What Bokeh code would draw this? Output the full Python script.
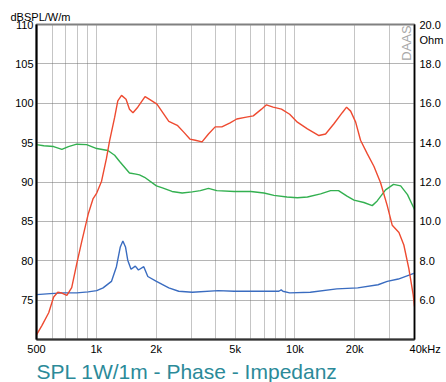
import math
from bokeh.plotting import figure
from bokeh.models import (Range1d, LinearAxis, FixedTicker, Label, Title,
                          PrintfTickFormatter)
from bokeh.embed import file_html
from bokeh.resources import INLINE

# ---- data ----
spl_freq = [500, 533, 576, 610, 640, 671, 711, 752, 797, 844, 910, 964, 1005,
            1063, 1125, 1166, 1237, 1283, 1340, 1412, 1469, 1530, 1617, 1760,
            1854, 2020, 2318, 2557, 2763, 2960, 3150, 3407, 3671, 3968, 4286,
            4718, 5094, 5608, 6171, 6790, 7188, 7765, 8556, 9411, 10290,
            11560, 13210, 14270, 15720, 17310, 18200, 19080, 20220, 21400,
            23120, 24980, 26990, 29160, 30910, 33400, 35350, 37460, 39390,
            40000]
spl_db = [70.6, 71.8, 73.4, 75.4, 76.0, 75.9, 75.6, 76.6, 79.6, 82.4, 85.9,
          87.9, 88.6, 90.1, 93.0, 95.2, 98.2, 100.3, 101.0, 100.5, 99.25,
          98.8, 99.5, 100.85, 100.5, 99.9, 97.7, 97.2, 96.3, 95.45, 95.3,
          95.1, 96.1, 97.0, 97.0, 97.5, 98.0, 98.2, 98.4, 99.25, 99.8, 99.5,
          99.25, 98.6, 97.6, 96.75, 95.9, 96.1, 97.4, 98.8, 99.5, 99.0, 97.6,
          95.3, 93.6, 92.0, 89.9, 87.0, 84.5, 83.6, 82.0, 79.0, 75.7, 74.2]

phase_freq = [500, 544, 610, 671, 724, 797, 894, 1005, 1144, 1237, 1311, 1469,
              1584, 1650, 1750, 2008, 2153, 2405, 2706, 3042, 3341, 3671,
              4040, 4950, 5996, 6986, 7840, 9119, 10290, 11560, 13470, 15120,
              16580, 18290, 19830, 22250, 24510, 25960, 28600, 31350, 34080,
              36880, 40000]
phase_val = [94.75, 94.6, 94.5, 94.15, 94.5, 94.8, 94.75, 94.25, 94.0, 93.4,
             92.6, 91.15, 91.0, 90.9, 90.6, 89.5, 89.25, 88.8, 88.6, 88.75,
             88.9, 89.2, 88.9, 88.8, 88.8, 88.6, 88.3, 88.1, 88.0, 88.1, 88.5,
             88.9, 88.9, 88.2, 87.7, 87.4, 87.0, 87.6, 89.0, 89.7, 89.5, 88.4,
             86.5]

imp_freq = [500, 587, 684, 797, 910, 1005, 1082, 1192, 1263, 1321, 1361, 1403,
            1440, 1496, 1572, 1630, 1734, 1817, 2008, 2318, 2600, 3042, 4110,
            4950, 8300, 8530, 8700, 9411, 11950, 16250, 20710, 26220, 29160,
            33160, 40000]
imp_ohm = [6.28, 6.33, 6.37, 6.37, 6.42, 6.48, 6.62, 6.95, 7.7, 8.7, 9.0, 8.7,
           8.03, 7.57, 7.73, 7.53, 7.7, 7.2, 6.95, 6.62, 6.45, 6.4, 6.48, 6.45,
           6.45, 6.52, 6.45, 6.37, 6.4, 6.57, 6.62, 6.78, 6.95, 7.07, 7.37]

x_label_ticks = [500, 1000, 2000, 5000, 10000, 20000, 40000]
x_label_text = ["500", "1k", "2k", "5k", "10k", "20k",
                "\u00a0\u00a0\u00a0\u00a0\u00a0\u00a0\u00a040kHz"]
x_grid_ticks = [600, 700, 800, 900, 1000, 2000, 3000, 4000, 5000, 6000, 7000,
                8000, 9000, 10000, 20000, 30000]
db_ticks = [75, 80, 85, 90, 95, 100, 105, 110]
db_grid = [75, 80, 85, 90, 95, 100, 105]
ohm_ticks = [6, 8, 10, 12, 14, 16, 18, 20]
ohm_unit_pos = 19.2

FONT = "Liberation Sans"

p = figure(width=446, height=382, x_axis_type="log",
           x_range=Range1d(500, 40000), y_range=Range1d(70, 110),
           output_backend="svg", toolbar_location=None,
           min_border_left=36, min_border_right=27, min_border_top=24,
           min_border_bottom=41)
p.extra_y_ranges = {"ohm": Range1d(4, 20)}
p.background_fill_color = "white"
p.border_fill_color = "white"
p.outline_line_color = "#808080"
p.outline_line_width = 2

# axes
xa = p.xaxis[0]
xa.ticker = FixedTicker(ticks=x_label_ticks)
xa.major_label_overrides = {t: s for t, s in zip(x_label_ticks, x_label_text)}
ya = p.yaxis[0]
ya.ticker = FixedTicker(ticks=db_ticks)

ra = LinearAxis(y_range_name="ohm",
                ticker=FixedTicker(ticks=ohm_ticks + [ohm_unit_pos]),
                formatter=PrintfTickFormatter(format="%.1f"))
ra.major_label_overrides = {ohm_unit_pos: "Ohm"}
p.add_layout(ra, "right")

for ax in (xa, ya, ra):
    ax.major_tick_out = 0
    ax.major_tick_in = 0
    ax.minor_tick_out = 0
    ax.minor_tick_in = 0
    ax.major_label_text_font = FONT
    ax.major_label_text_font_size = "11px"
    ax.major_label_text_color = "black"
    ax.axis_line_color = "black"
    ax.axis_line_width = 2
    ax.major_label_standoff = 3
xa.axis_line_color = "#333333"
ra.axis_line_width = 1.5
ra.major_label_standoff = 5

# grids
p.xgrid[0].ticker = FixedTicker(ticks=x_grid_ticks)
p.xgrid[0].grid_line_color = "#8a8a8a"
p.xgrid[0].grid_line_dash = "1 1"
p.ygrid[0].ticker = FixedTicker(ticks=db_grid)
p.ygrid[0].grid_line_color = "#6a6a6a"
p.ygrid[0].grid_line_dash = "1 1"

# curves
p.line(phase_freq, phase_val, line_color="#33b050", line_width=1.4)
p.line(imp_freq, imp_ohm, y_range_name="ohm", line_color="#3a6cc0",
       line_width=1.4)
p.line(spl_freq, spl_db, line_color="#ee4a30", line_width=1.4)

# texts
p.title = Title(text="dBSPL/W/m", align="left", offset=-26, text_font=FONT,
                text_font_size="11px", text_font_style="normal",
                text_color="black", standoff=3)
p.add_layout(Title(text="SPL 1W/1m - Phase - Impedanz", align="left",
                   offset=0, text_font=FONT, text_font_size="21px",
                   text_font_style="normal", text_color="#2b8a99",
                   standoff=0), "below")
p.add_layout(Label(x=40000, y=109.9, text="DAAS", angle=math.pi / 2,
                   x_offset=-1, text_font=FONT, text_font_size="13px",
                   text_align="right", text_baseline="bottom",
                   text_color="#a8a8a8"))

open("out.html", "w").write(file_html(p, INLINE))
